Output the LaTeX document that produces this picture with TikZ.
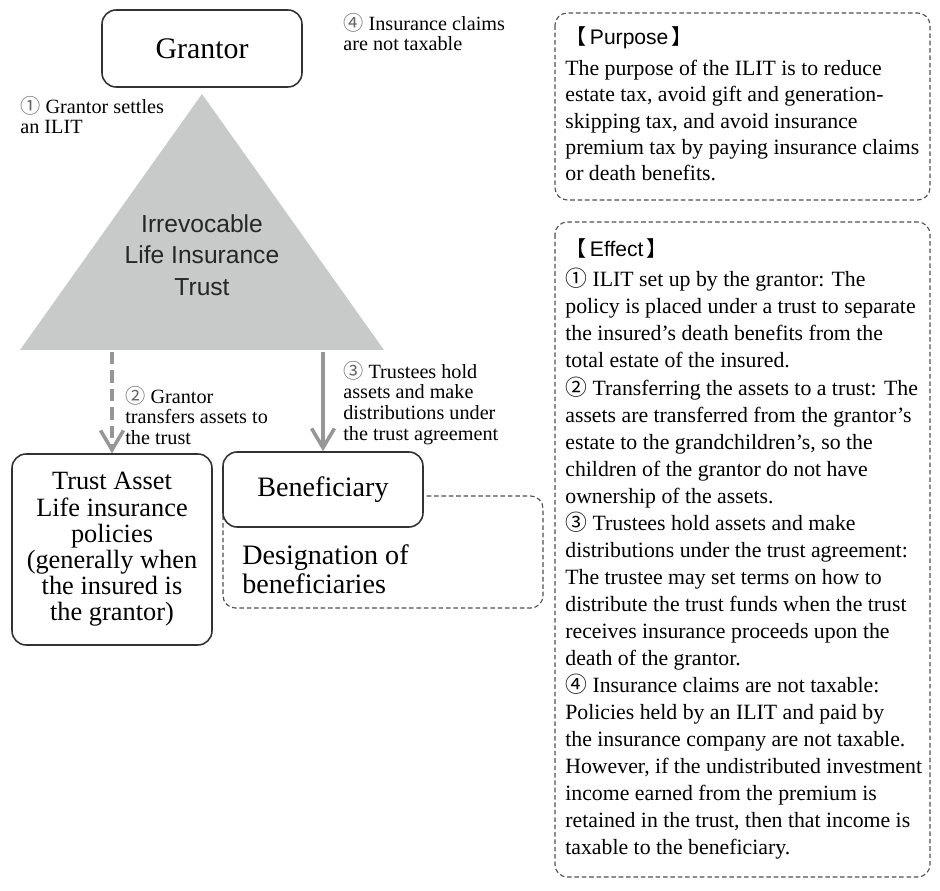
\documentclass[tikz,border=0pt]{standalone}
\usepackage{fontspec}
\setmainfont{Liberation Serif}
\setsansfont{Liberation Sans}
\newfontfamily\cjk{Noto Sans CJK SC}
\usetikzlibrary{arrows.meta}
\definecolor{trigray}{RGB}{200,201,201}
\definecolor{arrowgray}{RGB}{150,150,150}
\definecolor{linegray}{RGB}{50,50,50}
\definecolor{dashgray}{RGB}{80,80,80}
\tikzset{
  box/.style={draw=linegray, line width=0.9pt, rounded corners=8pt, fill=white, align=center, inner sep=0pt},
  note/.style={anchor=north west, align=left, inner sep=0pt, font=\fontsize{11.5}{11.7}\selectfont},
  flow/.style={draw=arrowgray, line width=2pt, -{Straight Barb[length=11pt,width=13pt]}},
  dashbox/.style={draw=dashgray, line width=0.65pt, dash pattern=on 2.6pt off 1.6pt, rounded corners=7pt},
  head/.style={anchor=base west, inner sep=0pt, font=\sffamily\fontsize{12}{14}\selectfont},
  para/.style={anchor=north west, align=left, inner sep=0pt}
}
\begin{document}
\begin{tikzpicture}[x=0.02cm, y=-0.02cm]
\fill[white] (0,0) rectangle (940,891);
\useasboundingbox (0,0) rectangle (940,891);
\fill[trigray] (202,94) -- (384,350) -- (20,350) -- cycle;
\node[font=\sffamily\fontsize{14}{17.9}\selectfont, text=black!85, align=center] (ilit) at (202,255) {Irrevocable\\Life Insurance\\Trust};
\node[box, minimum width=4cm, minimum height=1.54cm, font=\fontsize{17}{20}\selectfont] (grantor) at (202,48.5) {Grantor};
\node[box, minimum width=4cm, minimum height=3.82cm, font=\fontsize{15}{14.9}\selectfont] (asset) at (112,549.5) {Trust Asset\\Life insurance\\policies\\(generally when\\the insured is\\the grantor)};
\draw[dashbox] (223,496) rectangle (543,608);
\node[box, minimum width=4cm, minimum height=1.5cm, font=\fontsize{16}{18}\selectfont] (benef) at (323,489.5) {Beneficiary};
\node[para, font=\fontsize{16}{16.5}\selectfont] (design) at (242,544) {Designation of\\beneficiaries};
\coordinate (out2) at (112,352);
\coordinate (out3) at (323,352);
\draw[flow, dash pattern=on 7pt off 3.5pt] (out2) -- (asset.north);
\draw[flow] (out3) -- (benef.north);
\node[note] (lab1) at (20,96) {{\cjk\color{black!60}①} Grantor settles\\an ILIT};
\node[note] (lab2) at (125,386) {{\cjk\color{black!60}②} Grantor\\transfers assets to\\the trust};
\node[note] (lab3) at (343,361) {{\cjk\color{black!60}③} Trustees hold\\assets and make\\distributions under\\the trust agreement};
\node[note] (lab4) at (343,13) {{\cjk\color{black!60}④} Insurance claims\\are not taxable};
\draw[dashbox] (555,13) rectangle (930,200);
\node[head] (purposehead) at (565,45) {{\cjk 【}\,Purpose\,{\cjk 】}};
\node[para, font=\fontsize{12.4}{14.95}\selectfont] (purpose) at (565,60) {The purpose of the ILIT is to reduce\\
estate tax, avoid gift and generation-\\
skipping tax, and avoid insurance\\
premium tax by paying insurance claims\\
or death benefits.};
\draw[dashbox] (555,222) rectangle (930,877);
\node[head] (effecthead) at (565,257) {{\cjk 【}\,Effect\,{\cjk 】}};
\node[para, font=\fontsize{12.4}{15.4}\selectfont] (effect) at (565,268) {{\cjk ①} ILIT set up by the grantor: The\\
policy is placed under a trust to separate\\
the insured's death benefits from the\\
total estate of the insured.\\
{\cjk ②} Transferring the assets to a trust: The\\
assets are transferred from the grantor's\\
estate to the grandchildren's, so the\\
children of the grantor do not have\\
ownership of the assets.\\
{\cjk ③} Trustees hold assets and make\\
distributions under the trust agreement:\\
The trustee may set terms on how to\\
distribute the trust funds when the trust\\
receives insurance proceeds upon the\\
death of the grantor.\\
{\cjk ④} Insurance claims are not taxable:\\
Policies held by an ILIT and paid by\\
the insurance company are not taxable.\\
However, if the undistributed investment\\
income earned from the premium is\\
retained in the trust, then that income is\\
taxable to the beneficiary.};
\end{tikzpicture}
\end{document}
